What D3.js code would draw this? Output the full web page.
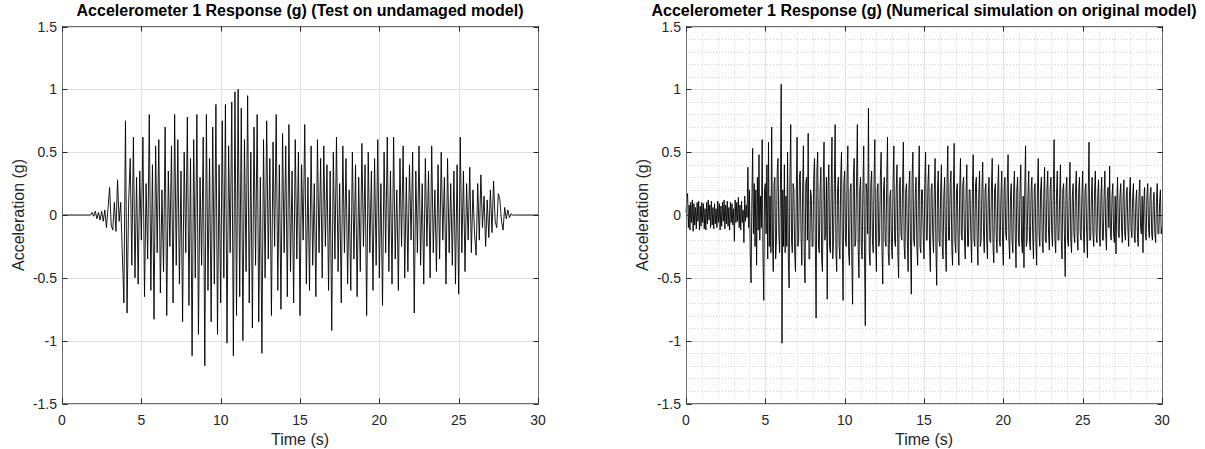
<!DOCTYPE html>
<html>
<head>
<meta charset="utf-8">
<script src="https://cdn.jsdelivr.net/npm/d3@7"></script>
<style>
  body { margin: 0; background: #fff; }
  svg { display: block; font-family: "Liberation Sans", Arial, sans-serif; }
</style>
</head>
<body>
<svg width="1205" height="449"></svg>
<script>
// axis ticks
var timeTicks = [0, 5, 10, 15, 20, 25, 30];
var accelTicks = [-1.5, -1, -0.5, 0, 0.5, 1, 1.5];

// shake table test: flat until 1.8 s, then read every 0.1 s
var testStart = 1.8, testStep = 0.1;
var testAccel = [
  0, 0.02, -0.01, 0.03, -0.03, 0.02, -0.04, 0.03, -0.05, 0.04,
  -0.10, 0.05, 0.22, -0.08, -0.12, 0.10, -0.13, 0.28, -0.05, 0.10,
  -0.30, -0.70, 0.75, -0.78, 0.10, 0.45, -0.40, 0.62, -0.50, 0.30,
  -0.55, 0.35, -0.20, 0.62, -0.65, 0.25, -0.35, 0.80, -0.60, 0.40,
  -0.83, 0.55, -0.30, 0.60, -0.62, 0.20, -0.45, 0.70, -0.80, 0.35,
  -0.25, 0.55, -0.70, 0.80, -0.40, 0.60, -0.55, 0.35, -0.85, 0.50,
  -0.30, 0.78, -0.72, 0.45, -1.12, 0.60, -0.50, 0.80, -0.95, 0.30,
  -0.40, 0.62, -1.20, 0.80, -0.60, 0.45, -0.85, 0.70, -0.55, 0.88,
  -0.95, 0.40, -0.70, 0.75, -0.50, 0.88, -1.02, 0.55, -0.30, 0.90,
  -1.12, 0.98, -0.80, 1.00, -0.65, 0.85, -1.00, 0.60, -0.45, 0.95,
  -0.70, 0.50, -0.90, 0.70, -0.40, 0.80, -0.85, 0.30, -1.10, 0.60,
  -0.50, 0.75, -0.35, 0.45, -0.80, 0.58, -0.25, 0.80, -0.60, 0.40,
  -0.75, 0.65, -0.30, 0.55, -0.65, 0.72, -0.45, 0.35, -0.70, 0.60,
  -0.35, 0.50, -0.80, 0.40, -0.20, 0.72, -0.55, 0.30, -0.60, 0.55,
  -0.40, 0.25, -0.65, 0.60, -0.30, 0.45, -0.50, 0.55, -0.25, 0.40,
  -0.60, 0.35, -0.92, 0.50, -0.35, 0.62, -0.45, 0.25, -0.70, 0.55,
  -0.30, 0.45, -0.55, 0.20, -0.60, 0.50, -0.35, 0.40, -0.65, 0.30,
  -0.45, 0.57, -0.25, 0.40, -0.80, 0.50, -0.30, 0.35, -0.60, 0.45,
  -0.40, 0.60, -0.50, 0.25, -0.72, 0.50, -0.30, 0.62, -0.45, 0.35,
  -0.55, 0.62, -0.35, 0.20, -0.60, 0.45, -0.25, 0.55, -0.50, 0.30,
  -0.45, 0.40, -0.20, 0.50, -0.78, 0.35, -0.30, 0.55, -0.40, 0.25,
  -0.55, 0.45, -0.25, 0.35, -0.50, 0.55, -0.30, 0.20, -0.45, 0.40,
  -0.35, 0.50, -0.20, 0.30, -0.55, 0.45, -0.30, 0.25, -0.40, 0.35,
  -0.55, 0.40, -0.63, 0.62, -0.30, 0.35, -0.45, 0.25, -0.20, 0.38,
  -0.30, 0.20, -0.15, -0.32, 0.25, -0.20, 0.32, -0.10, 0.15, -0.25,
  0.12, -0.18, 0.20, -0.14, 0.27, -0.05, -0.10, 0.17, 0.12, -0.05,
  -0.12, 0.06, -0.03, 0.04, -0.02, 0.01, 0, 0, 0, 0
];

// numerical simulation: read every 0.05 s from 0 s (one row per second)
var simStart = 0, simStep = 0.05;
var simAccel = [
  0.02, 0.12, 0.17, -0.10, 0.08, -0.12, 0.10, -0.06, 0.12, -0.13, 0.09, -0.08, 0.06, -0.11, 0.10, -0.05, 0.11, -0.12, 0.07, -0.09,
  0.10, -0.06, 0.09, -0.11, 0.05, -0.12, 0.10, -0.07, 0.12, -0.04, 0.08, -0.10, 0.11, -0.08, 0.06, -0.11, 0.09, -0.07, 0.05, -0.10,
  0.11, -0.06, 0.09, -0.12, 0.07, -0.09, 0.10, -0.05, 0.12, -0.11, 0.08, -0.07, 0.11, -0.09, 0.06, -0.12, 0.10, -0.06, 0.09, -0.08,
  0.05, -0.21, 0.12, -0.06, 0.10, -0.05, 0.14, -0.10, 0.08, -0.12, 0.11, -0.06, 0.04, -0.22, 0.15, -0.05, 0.08, -0.02, 0.38, -0.10,
  0.20, -0.30, -0.54, 0.10, 0.53, -0.15, 0.25, -0.25, 0.20, -0.40, 0.30, -0.12, 0.48, -0.20, 0.15, -0.10, 0.60, -0.30, -0.68, 0.20,
  0.25, -0.15, 0.40, -0.35, 0.58, -0.25, 0.15, -0.30, 0.70, -0.20, -0.45, 0.25, 0.30, -0.35, -0.20, 0.35, 0.45, -0.15, -0.30, 0.20,
  1.04, -1.02, 0.20, -0.25, 0.40, -0.30, 0.15, -0.25, 0.50, -0.35, -0.58, 0.30, 0.72, -0.20, -0.30, 0.25, 0.20, -0.30, -0.45, 0.15,
  0.62, -0.25, -0.20, 0.30, 0.35, -0.15, -0.40, 0.20, 0.55, -0.30, -0.54, 0.25, 0.30, -0.20, 0.65, -0.35, -0.35, 0.20, 0.15, -0.25,
  -0.25, 0.30, 0.45, -0.20, -0.82, 0.35, 0.50, -0.25, -0.30, 0.20, 0.38, -0.35, -0.45, 0.25, 0.58, -0.20, -0.15, 0.30, -0.67, 0.20,
  0.40, -0.25, -0.30, 0.20, 0.62, -0.35, -0.20, 0.25, 0.72, -0.30, -0.45, 0.20, 0.30, -0.25, -0.35, 0.30, 0.50, -0.20, -0.68, 0.25,
  0.35, -0.20, -0.25, 0.30, 0.55, -0.30, -0.40, 0.20, 0.25, -0.35, -0.71, 0.30, 0.45, -0.25, -0.20, 0.30, 0.72, -0.25, -0.50, 0.20,
  0.30, -0.25, -0.35, 0.20, 0.55, -0.30, -0.88, 0.25, 0.20, -0.15, 0.85, -0.30, -0.40, 0.25, 0.35, -0.20, -0.30, 0.25, 0.60, -0.20,
  -0.45, 0.20, 0.25, -0.25, -0.20, 0.30, 0.50, -0.25, -0.55, 0.20, 0.30, -0.20, -0.25, 0.25, 0.62, -0.30, -0.40, 0.15, 0.20, -0.25,
  -0.35, 0.25, 0.55, -0.20, -0.25, 0.20, 0.40, -0.30, -0.50, 0.25, 0.30, -0.15, -0.20, 0.25, 0.58, -0.25, -0.35, 0.20, 0.25, -0.20,
  -0.45, 0.20, 0.35, -0.25, -0.63, 0.30, 0.50, -0.20, -0.25, 0.15, 0.30, -0.25, -0.40, 0.20, 0.55, -0.25, -0.30, 0.20, 0.20, -0.15,
  -0.35, 0.25, 0.50, -0.20, -0.20, 0.25, 0.40, -0.25, -0.45, 0.20, 0.25, -0.15, -0.30, 0.20, 0.45, -0.25, -0.56, 0.20, 0.35, -0.20,
  -0.25, 0.20, 0.40, -0.25, -0.35, 0.15, 0.30, -0.20, -0.45, 0.25, 0.55, -0.20, -0.20, 0.25, 0.35, -0.25, -0.40, 0.20, 0.57, -0.20,
  -0.30, 0.20, 0.25, -0.25, -0.40, 0.20, 0.45, -0.15, -0.20, 0.25, 0.30, -0.20, -0.35, 0.15, 0.40, -0.25, -0.25, 0.20, 0.20, -0.15,
  -0.38, 0.20, 0.48, -0.20, -0.25, 0.25, 0.30, -0.20, -0.40, 0.15, 0.35, -0.25, -0.20, 0.20, 0.42, -0.15, -0.30, 0.20, 0.25, -0.20,
  -0.35, 0.15, 0.30, -0.20, -0.22, 0.20, 0.45, -0.25, -0.38, 0.20, 0.25, -0.15, -0.30, 0.20, 0.40, -0.20, -0.25, 0.15, 0.35, -0.20,
  -0.40, 0.20, 0.30, -0.15, -0.20, 0.25, 0.48, -0.20, -0.35, 0.15, 0.25, -0.20, -0.30, 0.20, 0.35, -0.15, -0.42, 0.20, 0.30, -0.20,
  -0.25, 0.20, 0.40, -0.20, -0.30, 0.15, -0.42, 0.20, 0.55, -0.25, -0.20, 0.15, 0.35, -0.20, -0.28, 0.20, 0.30, -0.15, -0.35, 0.20,
  0.25, -0.20, -0.40, 0.20, 0.45, -0.15, -0.25, 0.20, 0.30, -0.20, -0.30, 0.15, 0.38, -0.20, -0.22, 0.20, 0.35, -0.15, -0.28, 0.20,
  0.30, -0.15, -0.25, 0.20, 0.60, -0.20, -0.30, 0.15, 0.35, -0.20, -0.20, 0.15, 0.40, -0.20, -0.35, 0.20, 0.25, -0.15, -0.49, 0.20,
  0.30, -0.20, -0.25, 0.15, 0.42, -0.20, -0.30, 0.15, 0.25, -0.15, -0.22, 0.20, 0.35, -0.15, -0.28, 0.20, 0.30, -0.15, -0.20, 0.15,
  0.35, -0.15, -0.30, 0.20, 0.25, -0.15, -0.34, 0.15, 0.58, -0.20, -0.20, 0.15, 0.30, -0.15, -0.25, 0.20, 0.35, -0.15, -0.22, 0.15,
  0.28, -0.15, -0.25, 0.15, 0.30, -0.20, -0.20, 0.15, 0.35, -0.15, -0.28, 0.15, 0.22, -0.10, 0.39, -0.15, -0.20, 0.15, 0.25, -0.15,
  -0.22, 0.15, -0.31, 0.10, 0.30, -0.15, -0.18, 0.15, 0.25, -0.10, -0.22, 0.15, 0.28, -0.15, -0.20, 0.15, 0.22, -0.10, -0.25, 0.15,
  0.30, -0.10, -0.18, 0.15, 0.25, -0.15, -0.22, 0.10, 0.20, -0.15, -0.25, 0.15, 0.28, -0.10, -0.15, 0.15, -0.30, 0.10, 0.22, -0.15,
  -0.20, 0.15, 0.25, -0.10, -0.18, 0.15, 0.22, -0.15, -0.20, 0.10, 0.18, -0.15, -0.22, 0.10, 0.25, -0.15, -0.15, 0.10, 0.20, -0.15,
  -0.10
];

var titles = [
  "Accelerometer 1 Response (g) (Test on undamaged model)",
  "Accelerometer 1 Response (g) (Numerical simulation on original model)"
];
var xLabel = "Time (s)";
var yLabel = "Acceleration (g)";

function toPoints(start, step, vals, padZero) {
  var pts = vals.map(function(v, i) { return [start + i * step, v]; });
  if (padZero) {
    pts.unshift([0, 0]);
    pts.push([30, 0]);
  }
  return pts;
}

var svg = d3.select("svg");
svg.append("rect").attr("width", 1205).attr("height", 449).attr("fill", "#fff");

var plotTop = 26.5, plotBottom = 403.5;

function drawPanel(x0, x1, title, pts, minor) {
  var x = d3.scaleLinear().domain([0, 30]).range([x0, x1]);
  var y = d3.scaleLinear().domain([-1.5, 1.5]).range([plotBottom, plotTop]);
  var g = svg.append("g");

  if (minor) {
    var mx = d3.range(1, 30).filter(function(d) { return d % 5 !== 0; });
    var my = d3.range(-14, 15).filter(function(d) { return d % 5 !== 0; }).map(function(d) { return d / 10; });
    g.selectAll(".mx").data(mx).enter().append("line")
      .attr("x1", function(d) { return Math.round(x(d)) + 0.5; })
      .attr("x2", function(d) { return Math.round(x(d)) + 0.5; })
      .attr("y1", plotTop).attr("y2", plotBottom)
      .attr("stroke", "#d2d2d2").attr("stroke-dasharray", "1,2");
    g.selectAll(".my").data(my).enter().append("line")
      .attr("y1", function(d) { return Math.round(y(d)) + 0.5; })
      .attr("y2", function(d) { return Math.round(y(d)) + 0.5; })
      .attr("x1", x0).attr("x2", x1)
      .attr("stroke", "#d2d2d2").attr("stroke-dasharray", "1,2");
  }

  // major grid
  g.selectAll(".gx").data(timeTicks).enter().append("line")
    .attr("x1", function(d) { return Math.round(x(d)) + 0.5; })
    .attr("x2", function(d) { return Math.round(x(d)) + 0.5; })
    .attr("y1", plotTop).attr("y2", plotBottom)
    .attr("stroke", "#dfdfdf");
  g.selectAll(".gy").data(accelTicks).enter().append("line")
    .attr("y1", function(d) { return Math.round(y(d)) + 0.5; })
    .attr("y2", function(d) { return Math.round(y(d)) + 0.5; })
    .attr("x1", x0).attr("x2", x1)
    .attr("stroke", "#dfdfdf");

  // signal
  g.append("path")
    .datum(pts)
    .attr("fill", "none")
    .attr("stroke", "#000")
    .attr("stroke-width", 0.9)
    .attr("stroke-linejoin", "round")
    .attr("d", d3.line().x(function(d) { return x(d[0]); }).y(function(d) { return y(d[1]); }));

  // box
  g.append("rect")
    .attr("x", Math.round(x0) + 0.5).attr("y", plotTop)
    .attr("width", Math.round(x1) - Math.round(x0)).attr("height", plotBottom - plotTop)
    .attr("fill", "none").attr("stroke", "#6b6b6b");

  // inward ticks on all four sides
  var tl = 5;
  timeTicks.forEach(function(d) {
    var xx = Math.round(x(d)) + 0.5;
    g.append("line").attr("x1", xx).attr("x2", xx).attr("y1", plotBottom).attr("y2", plotBottom - tl).attr("stroke", "#262626");
    g.append("line").attr("x1", xx).attr("x2", xx).attr("y1", plotTop).attr("y2", plotTop + tl).attr("stroke", "#262626");
  });
  accelTicks.forEach(function(d) {
    var yy = Math.round(y(d)) + 0.5;
    g.append("line").attr("y1", yy).attr("y2", yy).attr("x1", Math.round(x0) + 0.5).attr("x2", Math.round(x0) + 0.5 + tl).attr("stroke", "#262626");
    g.append("line").attr("y1", yy).attr("y2", yy).attr("x1", Math.round(x1) + 0.5).attr("x2", Math.round(x1) + 0.5 - tl).attr("stroke", "#262626");
  });

  // tick labels
  g.selectAll(".lx").data(timeTicks).enter().append("text")
    .attr("x", function(d) { return x(d); })
    .attr("y", 424.5)
    .attr("text-anchor", "middle")
    .attr("font-size", 14)
    .attr("fill", "#262626")
    .text(function(d) { return d; });
  g.selectAll(".ly").data(accelTicks).enter().append("text")
    .attr("x", x0 - 5)
    .attr("y", function(d) { return y(d) + 5; })
    .attr("text-anchor", "end")
    .attr("font-size", 14)
    .attr("fill", "#262626")
    .text(function(d) { return d; });

  // labels and title
  g.append("text")
    .attr("x", (x0 + x1) / 2).attr("y", 445)
    .attr("text-anchor", "middle").attr("font-size", 16)
    .attr("fill", "#262626")
    .text(xLabel);
  g.append("text")
    .attr("transform", "translate(" + (x0 - 38.5) + "," + ((plotTop + plotBottom) / 2) + ")rotate(-90)")
    .attr("text-anchor", "middle").attr("font-size", 16)
    .attr("fill", "#262626")
    .text(yLabel);
  g.append("text")
    .attr("x", (x0 + x1) / 2).attr("y", 16)
    .attr("text-anchor", "middle").attr("font-size", 16)
    .attr("font-weight", "bold")
    .attr("fill", "#000")
    .text(title);
}

drawPanel(62, 538, titles[0], toPoints(testStart, testStep, testAccel, true), false);
drawPanel(686, 1162, titles[1], toPoints(simStart, simStep, simAccel, false), true);
</script>
</body>
</html>
